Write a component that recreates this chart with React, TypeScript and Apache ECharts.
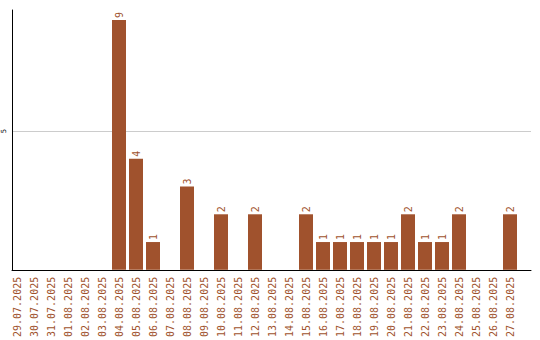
import React, { useEffect, useRef } from "react";
import * as echarts from "echarts";

const categories = [
  "29.07.2025", "30.07.2025", "31.07.2025", "01.08.2025", "02.08.2025", "03.08.2025",
  "04.08.2025", "05.08.2025", "06.08.2025", "07.08.2025", "08.08.2025", "09.08.2025",
  "10.08.2025", "11.08.2025", "12.08.2025", "13.08.2025", "14.08.2025", "15.08.2025",
  "16.08.2025", "17.08.2025", "18.08.2025", "19.08.2025", "20.08.2025", "21.08.2025",
  "22.08.2025", "23.08.2025", "24.08.2025", "25.08.2025", "26.08.2025", "27.08.2025",
];
const values = [
  0, 0, 0, 0, 0, 0,
  9, 4, 1, 0, 3, 0,
  2, 0, 2, 0, 0, 2,
  1, 1, 1, 1, 1, 2,
  1, 1, 2, 0, 0, 2,
];
const yMax = 9.36;
const yInterval = 5;

const BROWN = "#A0522D";
const MONO = "DejaVu Sans Mono";

export default function App() {
  const ref = useRef<HTMLDivElement>(null);
  useEffect(() => {
    if (!ref.current) return;
    const chart = echarts.init(ref.current, undefined, { renderer: "svg" });
    chart.setOption({
      animation: false,
      backgroundColor: "#ffffff",
      grid: [
        { left: 8.5, top: 10, width: 510, height: 260 },
        { left: 10.5, top: 10, width: 520.5, height: 260 },
      ],
      xAxis: [
        {
          type: "category",
          gridIndex: 0,
          data: categories,
          axisLine: { show: false },
          axisTick: { show: false },
          axisLabel: {
            interval: 0,
            rotate: 90,
            margin: 7,
            color: BROWN,
            fontFamily: MONO,
            fontSize: 10,
          },
        },
        {
          type: "category",
          gridIndex: 1,
          data: [""],
          axisLine: { show: true, lineStyle: { color: "#000000", width: 1 } },
          axisTick: { show: false },
          axisLabel: { show: false },
        },
      ],
      yAxis: [
        {
          type: "value",
          gridIndex: 0,
          min: 0,
          max: yMax,
          interval: yInterval,
          show: false,
          splitLine: { show: false },
        },
        {
          type: "value",
          gridIndex: 1,
          min: 0,
          max: yMax,
          interval: yInterval,
          axisLine: { show: true, lineStyle: { color: "#000000", width: 1 } },
          axisTick: { show: false },
          splitLine: {
            show: true,
            showMinLine: false,
            showMaxLine: false,
            lineStyle: { color: "#cccccc", width: 1 },
          },
          axisLabel: {
            showMinLabel: false,
            showMaxLabel: false,
            rotate: 90,
            margin: 5,
            color: "#000000",
            fontFamily: MONO,
            fontSize: 7,
          },
        },
      ],
      series: [
        {
          type: "bar",
          xAxisIndex: 0,
          yAxisIndex: 0,
          data: values,
          barWidth: 14,
          itemStyle: { color: BROWN },
          label: {
            show: true,
            position: "top",
            rotate: 90,
            align: "left",
            verticalAlign: "middle",
            distance: 2,
            color: BROWN,
            fontFamily: MONO,
            fontSize: 10,
            formatter: (p: any) => (p.value ? String(p.value) : ""),
          },
        },
      ],
    });
    return () => chart.dispose();
  }, []);
  return (
    <div
      ref={ref}
      style={{ position: "fixed", left: 0, top: 0, width: 540, height: 340 }}
    />
  );
}
